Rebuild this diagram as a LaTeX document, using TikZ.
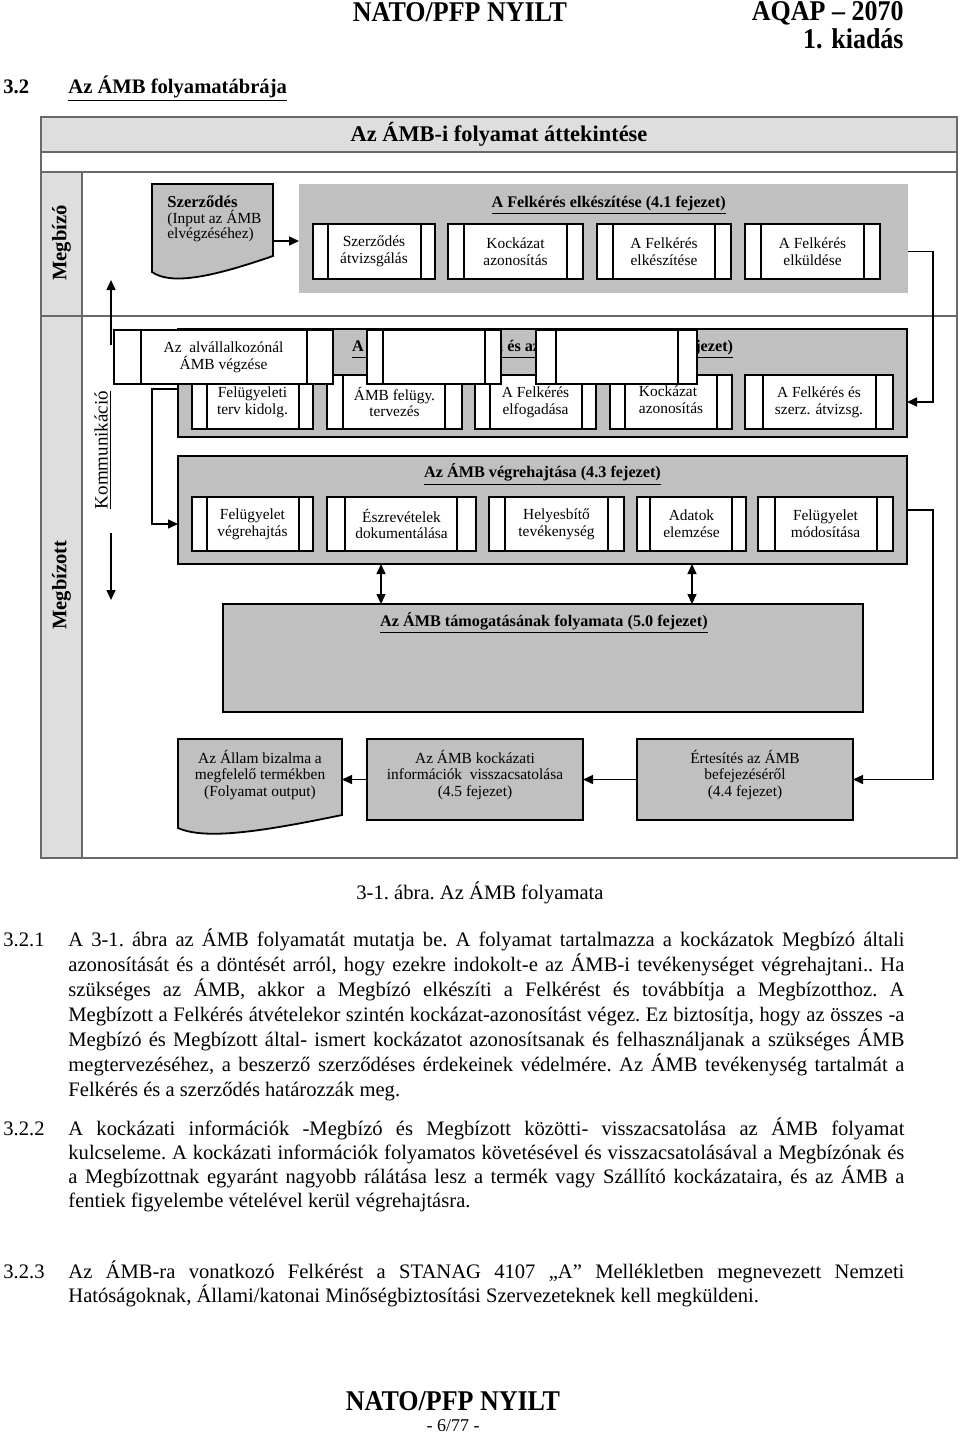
\documentclass[tikz,border=0pt]{standalone}
\usepackage{fontspec}
\setmainfont{Liberation Serif}
\usetikzlibrary{arrows.meta}
\definecolor{contgray}{RGB}{192,192,192}
\definecolor{lanegray}{RGB}{222,222,222}
\definecolor{framegray}{RGB}{105,105,105}
\newcommand{\fsd}{\fontsize{7.7}{8.4}\selectfont}
\newcommand{\fsh}{\fontsize{8.1}{9}\selectfont\bfseries}
\newcommand{\fsb}{\fontsize{10.3}{12}\selectfont\frenchspacing}
\newcommand{\tallbox}[1]{\scalebox{1}[1.1]{#1}}
\newcommand{\rectnode}[6]{\node[#6, minimum width={(#4-#2)*0.5pt}, minimum height={(#5-#3)*0.5pt}, inner sep=0pt, outer sep=0pt] (#1) at ({(#2+#4)/2},{(#3+#5)/2}) {};}
\newcommand{\pbox}[8]{\node[pbx, minimum width={(#4-#2)*0.5pt}, minimum height={(#5-#3)*0.5pt}] (#1) at ({(#2+#4)/2},{(#3+#5)/2}) {#8};
  \draw[pbxline] (#6,#3) -- (#6,#5) (#7,#3) -- (#7,#5);}
\begin{document}
\begin{tikzpicture}[x=0.5pt,y=-0.5pt,
  lanel/.style={draw=framegray, line width=0.8pt},
  contA/.style={fill=contgray, draw=none},
  contB/.style={fill=contgray, draw=black, line width=0.9pt},
  pbx/.style={draw=black, fill=white, line width=0.9pt, align=center, font=\fsd, inner sep=0pt, outer sep=0pt},
  pbxline/.style={draw=black, line width=0.9pt},
  outbox/.style={fill=contgray, draw=black, line width=0.9pt},
  dtext/.style={font=\fsd, align=center, inner sep=0pt},
  htext/.style={font=\fsh, inner sep=0pt},
  conn/.style={draw=black, line width=0.75pt},
  arr/.style={conn, -{Triangle[length=5pt,width=4.5pt]}},
  darr/.style={conn, {Triangle[length=5pt,width=4.5pt]}-{Triangle[length=5pt,width=4.5pt]}},
  body/.style={font=\fsb, inner sep=0pt, anchor=mid west},
  hdrfont/.style={font=\fontsize{13}{15}\selectfont\bfseries, inner sep=0pt},
]
\useasboundingbox (0,0) rectangle (960,1435);
\fill[white] (0,0) rectangle (960,1435);

% page header
\node[hdrfont, anchor=base] (hdr) at (460,21) {\tallbox{NATO/PFP NYILT}};
\node[hdrfont, anchor=base east] (aqap) at (904,20) {\tallbox{AQAP – 2070}};
\node[hdrfont, anchor=base east] (kiad) at (904,48) {\tallbox{1. kiadás}};
\node[font=\fsb\bfseries, inner sep=0pt, anchor=base west] (secn) at (3,93) {3.2};
\node[font=\fsb\bfseries, inner sep=0pt, anchor=base west] (sect) at (68,93) {\underline{Az ÁMB folyamatábrája}};

% frame and lanes
\fill[lanegray] (41,117) rectangle (957,152);
\fill[lanegray] (41,172) rectangle (82,858);
\draw[lanel] (41,117) rectangle (957,858);
\draw[lanel] (41,152) -- (957,152) (41,172) -- (957,172) (41,316) -- (957,316) (82,172) -- (82,858);
\node[font=\fontsize{11.2}{13}\selectfont\bfseries, inner sep=0pt] (title) at (499,134) {Az ÁMB-i folyamat áttekintése};
\node[font=\fontsize{10.3}{12}\selectfont\bfseries, inner sep=0pt, rotate=90] (lblA) at (61.5,243) {Megbízó};
\node[font=\fontsize{10.3}{12}\selectfont\bfseries, inner sep=0pt, rotate=90] (lblB) at (61.5,585) {Megbízott};
\node[font=\fontsize{9.5}{11}\selectfont, inner sep=0pt, rotate=90] (komm) at (103,450) {\underline{Kommunikáció}};

% Megbizo lane
\rectnode{docA}{152}{184}{273}{272}{}
\draw[outbox] (152,184) -- (273,184) -- (273,256) .. controls (215,276) and (172,286) .. (152,272) -- cycle;
\node[font=\fontsize{7.7}{7.6}\selectfont, align=left, inner sep=0pt, anchor=west] (docAt) at (167,219) {{\bfseries\fontsize{8.3}{7.6}\selectfont Szerződés}\\(Input az ÁMB\\elvégzéséhez)};
\rectnode{c1}{299}{184}{908}{293}{contA}
\node[htext, anchor=mid] (c1h) at (608.7,203) {\underline{A Felkérés elkészítése (4.1 fejezet)}};
\pbox{b1}{313}{224}{435}{279}{328}{421}{Szerződés\\átvizsgálás}
\pbox{b2}{448}{224}{583}{279}{464}{567}{Kockázat\\azonosítás}
\pbox{b3}{597}{224}{731}{279}{613}{715}{A Felkérés\\elkészítése}
\pbox{b4}{745}{224}{880}{279}{761}{864}{A Felkérés\\elküldése}
\draw[arr] ([yshift=-6.5pt]docA.east) -- ([yshift=-6.5pt]docA.east -| c1.west);

% container 2
\rectnode{c2}{178}{329}{907}{437}{contB}
\node[htext, anchor=mid west] (c2h) at (351.7,346.7) {\underline{A Felkérés elfogadása és az ÁMB tervezése (4.2 fejezet)}};
\pbox{p1}{192}{375}{313}{429}{207}{299}{Felügyeleti\\terv kidolg.}
\pbox{p2}{327}{375}{462}{429}{343}{445}{ÁMB felügy.\\tervezés}
\pbox{p3}{475}{375}{596}{429}{490}{582}{A Felkérés\\elfogadása}
\pbox{p4}{610}{375}{732}{429}{625}{717}{\begin{tabular}{@{}l@{}}Kockázat\\azonosítás\end{tabular}}
\pbox{p5}{745}{375}{893}{429}{763}{876}{A Felkérés és\\szerz. átvizsg.}
\pbox{ba}{114}{330}{333}{384}{141}{307}{Az~~alvállalkozónál\\ÁMB végzése}
\pbox{bb}{367}{330}{501}{384}{383}{485}{}
\pbox{bc}{536}{330}{697}{384}{556}{678}{}

% container 3
\rectnode{c3}{178}{456}{907}{564}{contB}
\node[htext, anchor=mid] (c3h) at (542.5,473) {\underline{Az ÁMB végrehajtása (4.3 fejezet)}};
\pbox{q1}{192}{497}{313}{551}{207}{299}{Felügyelet\\végrehajtás}
\pbox{q2}{327}{497}{476}{551}{345}{457}{Észrevételek\\dokumentálása}
\pbox{q3}{489}{497}{624}{551}{505}{608}{Helyesbítő\\tevékenység}
\pbox{q4}{637}{497}{746}{551}{650}{732}{Adatok\\elemzése}
\pbox{q5}{758}{497}{893}{551}{775}{877}{Felügyelet\\módosítása}

% container 4
\rectnode{c4}{223}{604}{863}{712}{contB}
\node[htext, anchor=mid] (c4h) at (543.9,621.7) {\underline{Az ÁMB támogatásának folyamata (5.0 fejezet)}};

% bottom row
\rectnode{outdoc}{178}{739}{342}{828}{}
\draw[outbox] (178,739) -- (342,739) -- (342,815) .. controls (260,832) and (205,840) .. (178,828) -- cycle;
\node[dtext] (outt) at (260,775) {Az Állam bizalma a\\megfelelő termékben\\(Folyamat output)};
\rectnode{kock}{367}{739}{583}{820}{outbox}
\node[dtext] (kockt) at (475,775) {Az ÁMB kockázati\\információk~~visszacsatolása\\(4.5 fejezet)};
\rectnode{ert}{637}{739}{853}{820}{outbox}
\node[dtext] (ertt) at (745,775) {Értesítés az ÁMB\\befejezéséről\\(4.4 fejezet)};

% connectors
\coordinate (rail) at (933,0);
\draw[arr] (c1.east |- b4.center) -- (rail |- b4.center) -- (rail |- p5.center) -- (c2.east |- p5.center);
\coordinate (lrail) at (152,389);
\draw[arr] (c2.west |- lrail) -- (lrail) -- (lrail |- q1.center) -- (c3.west |- q1.center);
\draw[arr] (c3.east) -- (rail |- c3.east) -- (rail |- ert.east) -- (ert.east);
\coordinate (d1) at (381,0);
\coordinate (d2) at (692,0);
\draw[darr] (c3.south -| d1) -- (c4.north -| d1);
\draw[darr] (c3.south -| d2) -- (c4.north -| d2);
\draw[arr] (ert.west) -- (kock.east);
\draw[arr] (kock.west) -- (kock.west -| outdoc.east);
\coordinate (ku) at (111,345);
\coordinate (kut) at (111,280);
\draw[arr] (ku) -- (kut);
\coordinate (kd) at (111,533);
\coordinate (kdt) at (111,600);
\draw[arr] (kd) -- (kdt);

% caption and body text
\node[font=\fsb, inner sep=0pt, anchor=mid] (capt) at (480,895) {3-1. ábra. Az ÁMB folyamata};

\node[body] (n1) at (3,942) {3.2.1};
\node[body] (l1a) at (68,942) {\makebox[418pt][s]{A 3-1. ábra az ÁMB folyamatát mutatja be. A folyamat tartalmazza a kockázatok Megbízó általi}};
\node[body] (l1b) at (68,967) {\makebox[418pt][s]{azonosítását és a döntését arról, hogy ezekre indokolt-e az ÁMB-i tevékenységet végrehajtani.. Ha}};
\node[body] (l1c) at (68,992) {\makebox[418pt][s]{szükséges az ÁMB, akkor a Megbízó elkészíti a Felkérést és továbbítja a Megbízotthoz. A}};
\node[body] (l1d) at (68,1017) {\makebox[418pt][s]{Megbízott a Felkérés átvételekor szintén kockázat-azonosítást végez. Ez biztosítja, hogy az összes -a}};
\node[body] (l1e) at (68,1042) {\makebox[418pt][s]{Megbízó és Megbízott által- ismert kockázatot azonosítsanak és felhasználjanak a szükséges ÁMB}};
\node[body] (l1f) at (68,1067) {\makebox[418pt][s]{megtervezéséhez, a beszerző szerződéses érdekeinek védelmére. Az ÁMB tevékenység tartalmát a}};
\node[body] (l1g) at (68,1092) {Felkérés és a szerződés határozzák meg.};

\node[body] (n2) at (3,1131) {3.2.2};
\node[body] (l2a) at (68,1131) {\makebox[418pt][s]{A kockázati információk -Megbízó és Megbízott közötti- visszacsatolása az ÁMB folyamat}};
\node[body] (l2b) at (68,1155) {\makebox[418pt][s]{kulcseleme. A kockázati információk folyamatos követésével és visszacsatolásával a Megbízónak és}};
\node[body] (l2c) at (68,1179) {\makebox[418pt][s]{a Megbízottnak egyaránt nagyobb rálátása lesz a termék vagy Szállító kockázataira, és az ÁMB a}};
\node[body] (l2d) at (68,1203) {fentiek figyelembe vételével kerül végrehajtásra.};

\node[body] (n3) at (3,1274) {3.2.3};
\node[body] (l3a) at (68,1274) {\makebox[418pt][s]{Az ÁMB-ra vonatkozó Felkérést a STANAG 4107 „A” Mellékletben megnevezett Nemzeti}};
\node[body] (l3b) at (68,1298) {Hatóságoknak, Állami/katonai Minőségbiztosítási Szervezeteknek kell megküldeni.};

% footer
\node[hdrfont, anchor=base] (ftr) at (453,1410) {\tallbox{NATO/PFP NYILT}};
\node[font=\fontsize{9}{10}\selectfont, inner sep=0pt, anchor=base] (pg) at (453,1431) {- 6/77 -};
\end{tikzpicture}
\end{document}
